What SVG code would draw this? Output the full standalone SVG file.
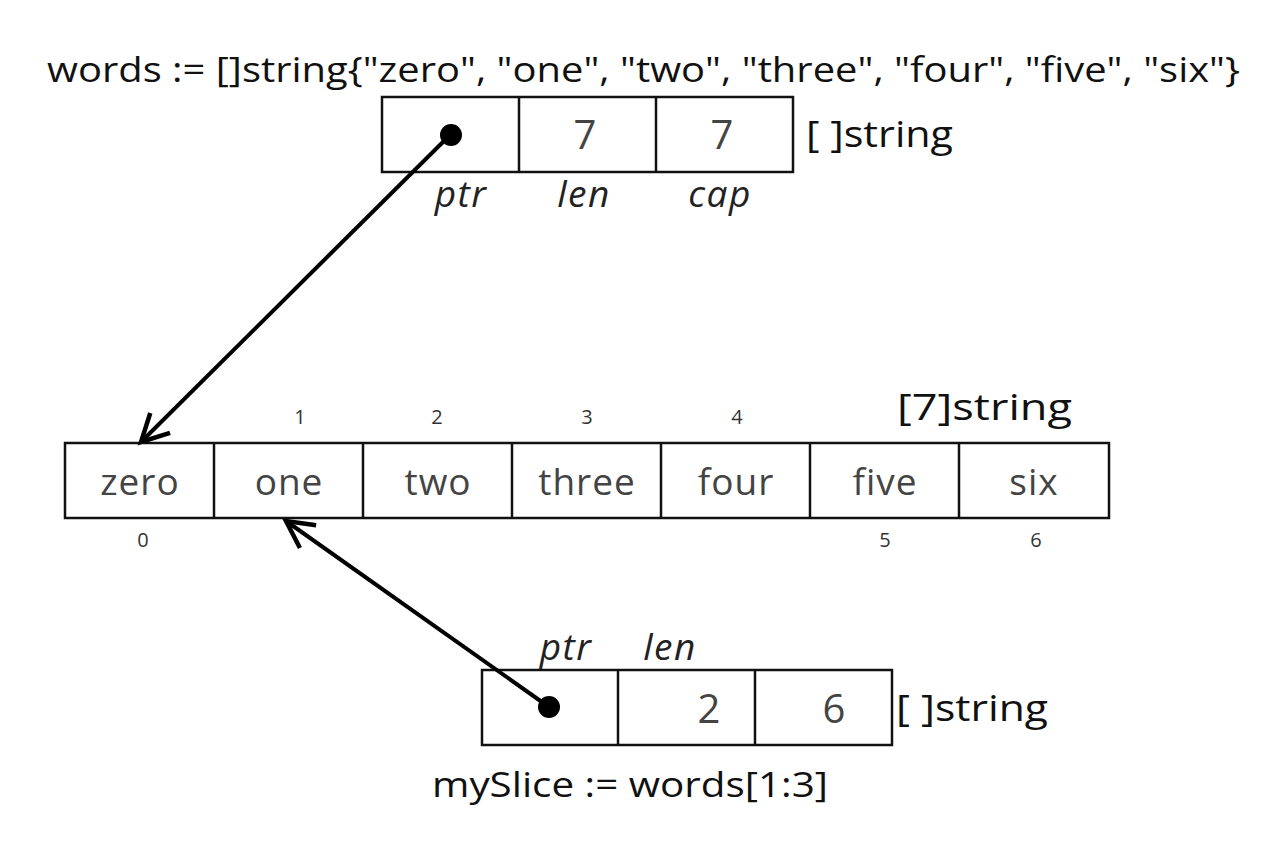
<svg xmlns="http://www.w3.org/2000/svg" width="1286" height="867" viewBox="0 0 1286 867">
<defs>
<style>
.t{font-family:"Open Sans","Noto Sans","Liberation Sans",sans-serif;fill:#111}
.title{font-size:34px}
.cell{font-size:37px;fill:#444;text-anchor:middle;letter-spacing:1px}
.num{font-size:40px;fill:#444;text-anchor:middle}
.idx{font-size:20px;fill:#333;text-anchor:middle}
.lbl{font-size:37px;font-style:italic;text-anchor:middle;fill:#222;letter-spacing:1.5px}
.typ{font-size:36px}
.box{fill:#fff;stroke:#111;stroke-width:2.5}
.dot{fill:#000}
.conn{stroke:#000;stroke-width:4;fill:none}
</style>
<marker id="arr" markerUnits="userSpaceOnUse" markerWidth="40" markerHeight="40" refX="0" refY="0" viewBox="-30 -20 40 40" orient="auto" overflow="visible">
<path d="M-27,-14 L0,0 L-27,14" fill="none" stroke="#000" stroke-width="4.5" stroke-linecap="butt" stroke-linejoin="miter"/>
</marker>
</defs>
<rect width="1286" height="867" fill="#fff"/>

<g id="title">
<text class="t title" x="47" y="82" textLength="1193" lengthAdjust="spacingAndGlyphs">words := []string{"zero", "one", "two", "three", "four", "five", "six"}</text>
</g>

<g id="words-header">
<rect class="box" x="382" y="97" width="411" height="75"/>
<line class="box" x1="519" y1="97" x2="519" y2="172"/>
<line class="box" x1="656" y1="97" x2="656" y2="172"/>
<text class="t num" x="585" y="149">7</text>
<text class="t num" x="722" y="149">7</text>
<text class="t typ" x="806" y="147" textLength="147" lengthAdjust="spacingAndGlyphs">[ ]string</text>
<text class="t lbl" x="461" y="207">ptr</text>
<text class="t lbl" x="584" y="207">len</text>
<text class="t lbl" x="720" y="207">cap</text>
</g>

<g id="array">
<rect class="box" x="65" y="443" width="1044" height="75"/>
<line class="box" x1="214" y1="443" x2="214" y2="518"/>
<line class="box" x1="363" y1="443" x2="363" y2="518"/>
<line class="box" x1="512" y1="443" x2="512" y2="518"/>
<line class="box" x1="661" y1="443" x2="661" y2="518"/>
<line class="box" x1="810" y1="443" x2="810" y2="518"/>
<line class="box" x1="959" y1="443" x2="959" y2="518"/>
<text class="t cell" x="140" y="495">zero</text>
<text class="t cell" x="289" y="495">one</text>
<text class="t cell" x="438" y="495">two</text>
<text class="t cell" x="587" y="495">three</text>
<text class="t cell" x="736" y="495">four</text>
<text class="t cell" x="885" y="495">five</text>
<text class="t cell" x="1034" y="495">six</text>
<text class="t idx" x="300" y="424">1</text>
<text class="t idx" x="437" y="424">2</text>
<text class="t idx" x="587" y="424">3</text>
<text class="t idx" x="737" y="424">4</text>
<text class="t idx" x="143" y="547">0</text>
<text class="t idx" x="885" y="547">5</text>
<text class="t idx" x="1036" y="547">6</text>
<text class="t typ" x="897" y="420" textLength="175" lengthAdjust="spacingAndGlyphs">[7]string</text>
</g>

<g id="myslice-header">
<rect class="box" x="482" y="670" width="410" height="75"/>
<line class="box" x1="618" y1="670" x2="618" y2="745"/>
<line class="box" x1="755" y1="670" x2="755" y2="745"/>
<text class="t num" x="709" y="723">2</text>
<text class="t num" x="834" y="723">6</text>
<text class="t typ" x="896" y="721" textLength="152" lengthAdjust="spacingAndGlyphs">[ ]string</text>
<text class="t lbl" x="566" y="660">ptr</text>
<text class="t lbl" x="670" y="660">len</text>
<text class="t title" x="432" y="797" textLength="396" lengthAdjust="spacingAndGlyphs">mySlice := words[1:3]</text>
</g>

<g id="connectors">
<line class="conn" x1="450" y1="135" x2="141" y2="442" marker-end="url(#arr)"/>
<line class="conn" x1="549" y1="707" x2="286" y2="521" marker-end="url(#arr)"/>
<circle class="dot" cx="451" cy="135" r="11"/>
<circle class="dot" cx="549" cy="707" r="11"/>
</g>
</svg>
